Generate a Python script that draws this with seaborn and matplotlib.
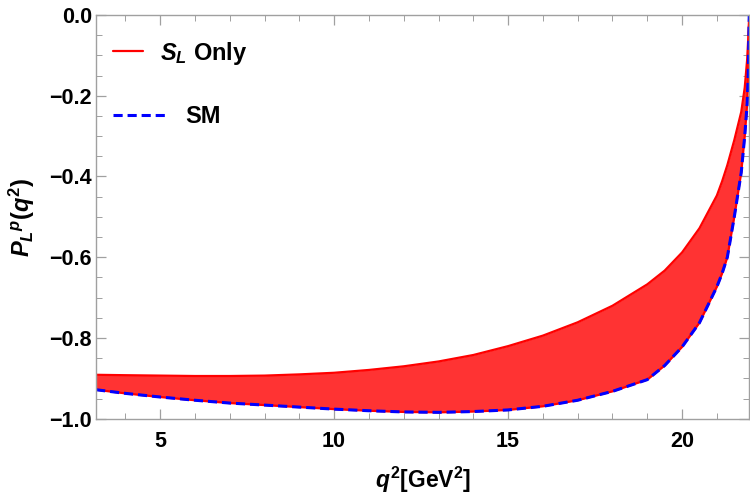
import seaborn as sns
import matplotlib.pyplot as plt
from matplotlib.lines import Line2D
from matplotlib.ticker import MultipleLocator

# q^2 grid in GeV^2
q2 = [3.16, 4, 5, 6, 7, 8, 9, 10, 11, 12, 13, 14, 15, 16, 17, 18, 19,
      19.5, 20, 20.5, 21, 21.15, 21.3, 21.5, 21.7, 21.8, 21.87, 21.9, 21.93]

# upper edge of the S_L band
upper = [-0.891, -0.892, -0.893, -0.894, -0.894, -0.893, -0.890, -0.886,
         -0.879, -0.870, -0.858, -0.842, -0.820, -0.794, -0.761, -0.720,
         -0.667, -0.633, -0.588, -0.528, -0.447, -0.412, -0.372, -0.31,
         -0.24, -0.18, -0.11, -0.06, 0.0]

# lower edge of the band = SM curve
sm = [-0.928, -0.937, -0.946, -0.954, -0.961, -0.966, -0.971, -0.976,
      -0.980, -0.983, -0.984, -0.982, -0.978, -0.969, -0.954, -0.932,
      -0.903, -0.868, -0.822, -0.762, -0.673, -0.64, -0.60, -0.50,
      -0.39, -0.30, -0.22, -0.15, 0.0]

sns.set_theme(style="ticks")
plt.rcParams['font.family'] = ['Liberation Sans', 'DejaVu Sans']
plt.rcParams['font.weight'] = 'bold'
plt.rcParams['text.color'] = 'black'
plt.rcParams['axes.labelcolor'] = 'black'
plt.rcParams['xtick.labelcolor'] = 'black'
plt.rcParams['ytick.labelcolor'] = 'black'
plt.rcParams['mathtext.fontset'] = 'custom'
plt.rcParams['mathtext.it'] = 'Liberation Sans:italic:bold'
plt.rcParams['mathtext.rm'] = 'Liberation Sans:bold'
plt.rcParams['mathtext.bf'] = 'Liberation Sans:bold'

fig = plt.figure(figsize=(7.5, 4.98), dpi=100)
ax = fig.add_axes([0.128, 0.159, 0.871, 0.811])

ax.fill_between(q2, upper, sm, color='#ff3333', linewidth=0)
sns.lineplot(x=q2, y=upper, color='red', linewidth=1.6, ax=ax)
sns.lineplot(x=q2, y=sm, color='red', linewidth=1.6, ax=ax)
sns.lineplot(x=q2, y=sm, color='blue', linewidth=2.2, ax=ax)
ax.lines[-1].set_dashes([3, 1.6])

ax.set_xlim(3.157, 21.93)
ax.set_ylim(-1.0, 0.0)
ax.xaxis.set_major_locator(MultipleLocator(5))
ax.xaxis.set_minor_locator(MultipleLocator(1))
ax.yaxis.set_major_locator(MultipleLocator(0.2))
ax.yaxis.set_minor_locator(MultipleLocator(0.05))
ax.yaxis.set_major_formatter(plt.FuncFormatter(lambda v, p: f"{v:.1f}".replace('-', '\u2212')))

for s in ax.spines.values():
    s.set_color('#a0a0a0')
    s.set_linewidth(1.0)
ax.tick_params(which='both', direction='in', top=True, right=True, color='#a0a0a0',
               labelsize=15.5)
ax.tick_params(axis='x', pad=9)
ax.tick_params(axis='y', pad=3)
ax.tick_params(which='major', length=7, width=0.9)
ax.tick_params(which='minor', length=4, width=0.7)
for lab in ax.get_xticklabels() + ax.get_yticklabels():
    lab.set_fontweight('bold')

ax.set_xlabel(r'$q^2$[GeV$^2$]', fontsize=16.5, fontweight='bold', labelpad=9)
ax.set_ylabel(r'$P_L{}^p(q^2)$', fontsize=17, fontweight='bold', labelpad=9)

h1 = Line2D([], [], color='red', linewidth=1.6)
leg1 = ax.legend([h1], [r'$S_L$ Only'], loc='upper left', bbox_to_anchor=(0.0, 0.98),
                 frameon=False, fontsize=17, handlelength=1.3, handletextpad=0.7,
                 borderaxespad=0.3)
for t in leg1.get_texts():
    t.set_fontweight('bold')
ax.add_artist(leg1)

h2 = Line2D([], [], color='blue', linewidth=2.2, dashes=[3, 1.6])
leg2 = ax.legend([h2], ['SM'], loc='upper left', bbox_to_anchor=(0.0, 0.818),
                 frameon=False, fontsize=17, handlelength=2.4, handletextpad=0.7,
                 borderaxespad=0.3)
for t in leg2.get_texts():
    t.set_fontweight('bold')

fig.savefig('out.png', dpi=100)
